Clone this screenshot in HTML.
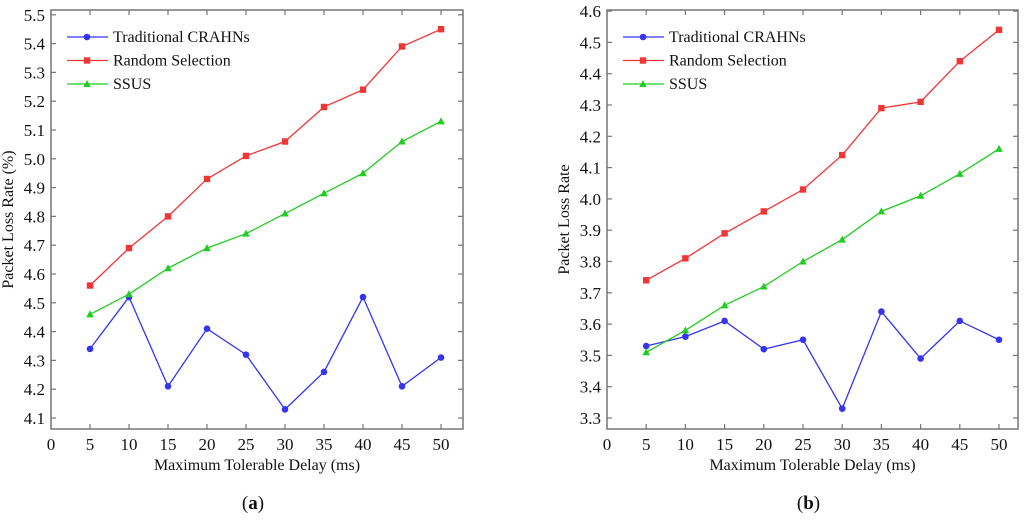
<!DOCTYPE html>
<html><head><meta charset="utf-8"><style>
body{margin:0;background:#fff;font-family:"Liberation Serif","DejaVu Serif",serif;}
svg text{font-family:"Liberation Serif","DejaVu Serif",serif;fill:#111;}
</style></head><body>
<svg id="s" width="1024" height="519" xmlns="http://www.w3.org/2000/svg" font-family="Liberation Serif, DejaVu Serif, serif"></svg>
<script>
const xCats=[5,10,15,20,25,30,35,40,45,50];
const xTicks=[0,5,10,15,20,25,30,35,40,45,50];
const aTrad=[4.34,4.52,4.21,4.41,4.32,4.13,4.26,4.52,4.21,4.31];
const aRand=[4.56,4.69,4.80,4.93,5.01,5.06,5.18,5.24,5.39,5.45];
const aSsus=[4.46,4.53,4.62,4.69,4.74,4.81,4.88,4.95,5.06,5.13];
const aYTicks=[4.1,4.2,4.3,4.4,4.5,4.6,4.7,4.8,4.9,5.0,5.1,5.2,5.3,5.4,5.5];
const bTrad=[3.53,3.56,3.61,3.52,3.55,3.33,3.64,3.49,3.61,3.55];
const bRand=[3.74,3.81,3.89,3.96,4.03,4.14,4.29,4.31,4.44,4.54];
const bSsus=[3.51,3.58,3.66,3.72,3.80,3.87,3.96,4.01,4.08,4.16];
const bYTicks=[3.3,3.4,3.5,3.6,3.7,3.8,3.9,4.0,4.1,4.2,4.3,4.4,4.5,4.6];
const NS='http://www.w3.org/2000/svg';
const svg=document.getElementById('s');
const FF='Liberation Serif, DejaVu Serif, serif';
function mk(t,a,p){const e=document.createElementNS(NS,t);for(const k in a)e.setAttribute(k,a[k]);if(t==='text'){e.setAttribute('font-family',FF);e.style.fontFamily='"Liberation Serif","DejaVu Serif",serif';}(p||svg).appendChild(e);return e;}
function panel(id,L,R,x50,yLo,yLoPx,yStepPx,ticks,fmt,series,ytitle,cap){
  const T=10,B=429;
  const g=mk('g',{});
  
  
  const X=v=>L+(x50-L)*v/50;
  const Y=v=>yLoPx-(v-yLo)/0.1*yStepPx;
  const fr=mk('rect',{x:L,y:T,width:R-L,height:B-T,fill:'none',stroke:'#777','stroke-width':1.5},g);
  
  
  xTicks.forEach(v=>{const x=X(v);
    mk('line',{x1:x,y1:B,x2:x,y2:B-5,stroke:'#777','stroke-width':1.2},g);
    mk('line',{x1:x,y1:T,x2:x,y2:T+5,stroke:'#777','stroke-width':1.2},g);
    const t=mk('text',{x:x,y:B+21,'text-anchor':'middle','font-size':17},g);t.textContent=v;
    
    });
  ticks.forEach(v=>{const y=Y(v);
    mk('line',{x1:L,y1:y,x2:L+5,y2:y,stroke:'#777','stroke-width':1.2},g);
    mk('line',{x1:R,y1:y,x2:R-5,y2:y,stroke:'#777','stroke-width':1.2},g);
    const t=mk('text',{x:L-6,y:y+6,'text-anchor':'end','font-size':17},g);t.textContent=fmt(v);
    
    });
  const xt=mk('text',{x:(L+R)/2,y:470,'text-anchor':'middle','font-size':16},g);xt.textContent='Maximum Tolerable Delay (ms)';
  
  
  const yt=mk('text',{x:0,y:0,'text-anchor':'middle','font-size':16,transform:`translate(${L-38},${(T+B)/2}) rotate(-90)`},g);yt.textContent=ytitle;
  
  
  const cp=mk('text',{x:(L+R)/2-4,y:509,'text-anchor':'middle','font-size':19},g);
  cp.innerHTML='(<tspan font-weight="bold">'+cap+'</tspan>)';
  
  
  series.forEach((s,i)=>{
    const pts=s.vals.map((v,j)=>X(xCats[j])+','+Y(v)).join(' ');
    const pl=mk('polyline',{points:pts,fill:'none',stroke:s.c,'stroke-width':1.3},g);
    
    
    s.vals.forEach((v,j)=>marker(g,s.m,X(xCats[j]),Y(v),s.c));
    const ly=37+i*23.5;
    mk('line',{x1:L+16,y1:ly,x2:L+57,y2:ly,stroke:s.c,'stroke-width':1.3},g);
    marker(g,s.m,L+36,ly,s.c);
    const lt=mk('text',{x:L+62,y:ly+5,'font-size':16},g);lt.textContent=s.n;
    
    
  });
}
function marker(g,m,x,y,c){let e;
  if(m==='o')e=mk('circle',{cx:x,cy:y,r:3.3,fill:c},g);
  else if(m==='s')e=mk('rect',{x:x-3.2,y:y-3.2,width:6.4,height:6.4,fill:c},g);
  else e=mk('polygon',{points:`${x},${y-4} ${x-3.8},${y+3} ${x+3.8},${y+3}`,fill:c},g);
  
  }
const f1=v=>v.toFixed(1);
panel('chart-a',51,463,441,4.1,418,28.8,aYTicks,f1,[
 {n:'Traditional CRAHNs',vals:aTrad,c:'#3535f0',m:'o'},
 {n:'Random Selection',vals:aRand,c:'#f03535',m:'s'},
 {n:'SSUS',vals:aSsus,c:'#22cc22',m:'t'}],'Packet Loss Rate (%)','a');
panel('chart-b',607,1018,999,3.3,418,31.3,bYTicks,f1,[
 {n:'Traditional CRAHNs',vals:bTrad,c:'#3535f0',m:'o'},
 {n:'Random Selection',vals:bRand,c:'#f03535',m:'s'},
 {n:'SSUS',vals:bSsus,c:'#22cc22',m:'t'}],'Packet Loss Rate','b');
</script>
</body></html>
